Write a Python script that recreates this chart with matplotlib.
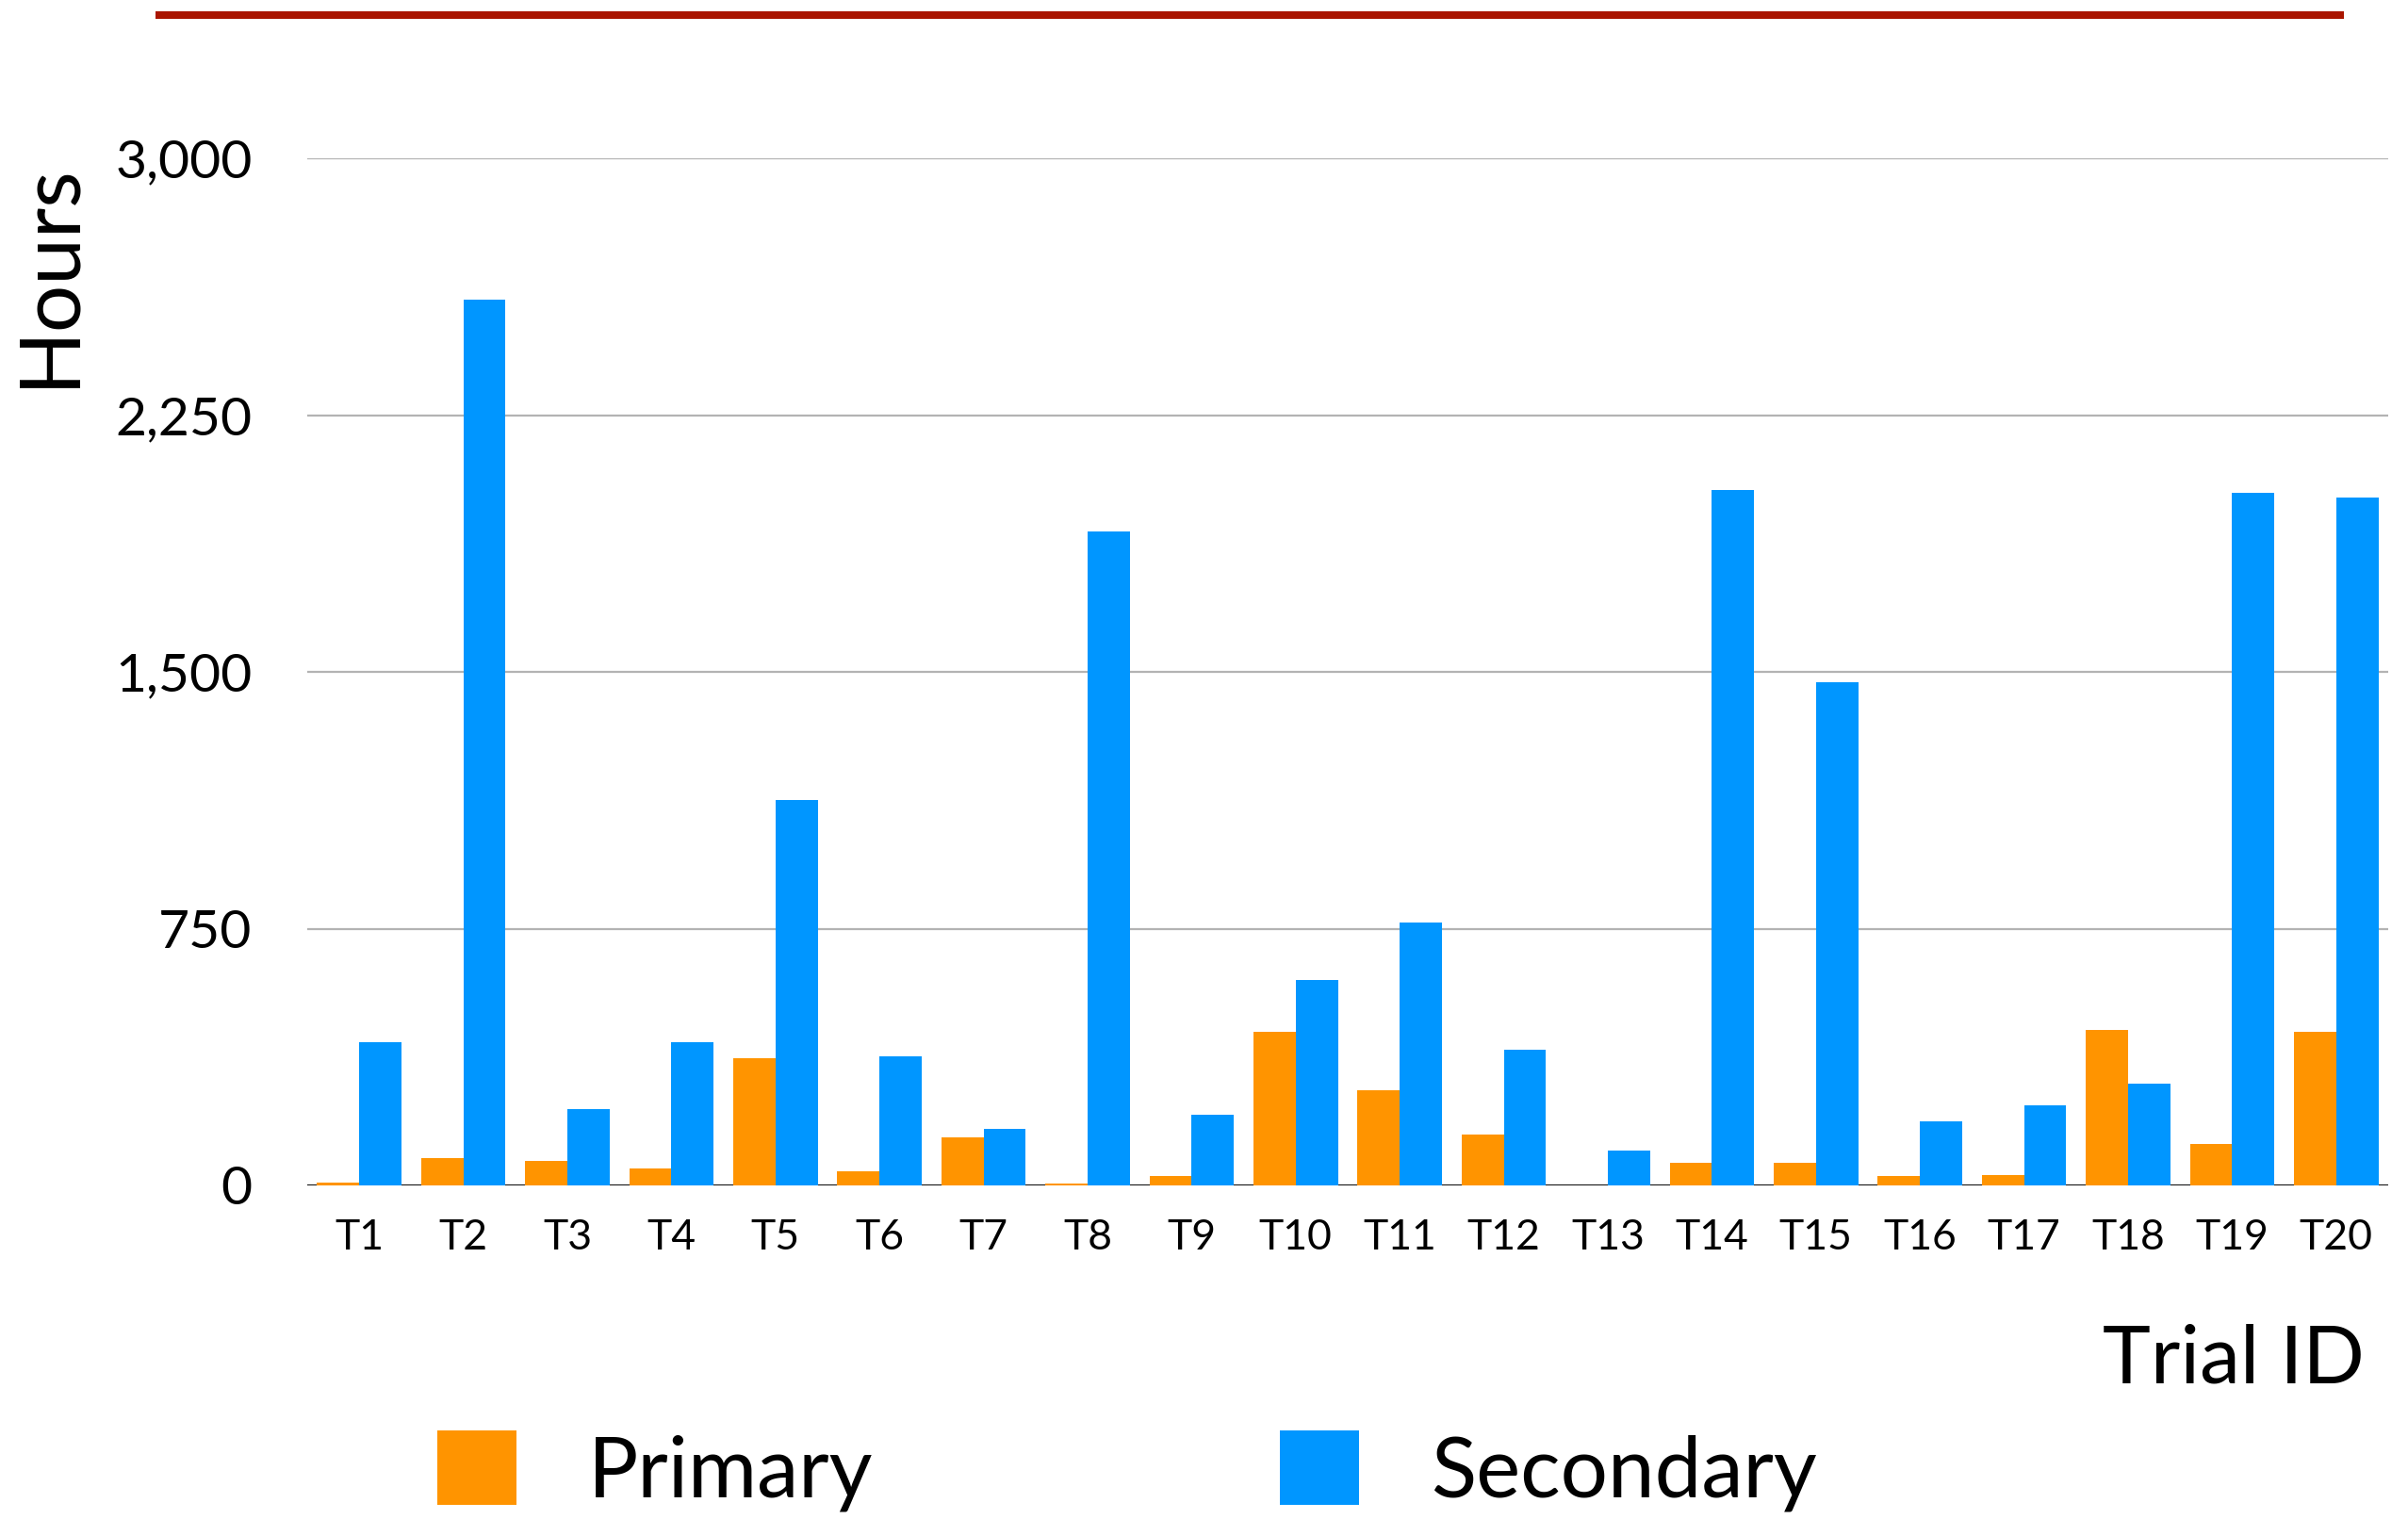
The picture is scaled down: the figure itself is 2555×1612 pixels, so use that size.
import matplotlib
matplotlib.use("Agg")
import matplotlib.pyplot as plt
from matplotlib.lines import Line2D
import numpy as np

plt.rcParams['font.family'] = ['Lato', 'DejaVu Sans']

trials = ["T1", "T2", "T3", "T4", "T5", "T6", "T7", "T8", "T9", "T10",
          "T11", "T12", "T13", "T14", "T15", "T16", "T17", "T18", "T19", "T20"]
primary = [8, 81, 72, 49, 372, 40, 139, 5, 27, 448,
           278, 148, 0, 67, 65, 27, 31, 453, 121, 448]
secondary = [417, 2587, 224, 417, 1125, 377, 166, 1910, 206, 601,
             767, 395, 103, 2031, 1471, 188, 233, 296, 2022, 2009]
yticks = [0, 750, 1500, 2250, 3000]
ytick_labels = ["0", "750", "1,500", "2,250", "3,000"]

W, H = 2555, 1612
fig = plt.figure(figsize=(W / 100, H / 100), dpi=100)
ax = fig.add_axes([326 / W, 1 - 1258 / H, (2534 - 326) / W, (1258 - 168) / H])

x = np.arange(len(trials))
bw = 0.405
c_prim = "#FF9400"
c_sec = "#0096FF"
b1 = ax.bar(x - bw / 2, primary, bw, color=c_prim, label="Primary", zorder=2)
b2 = ax.bar(x + bw / 2, secondary, bw, color=c_sec, label="Secondary", zorder=2)

ax.set_xlim(-0.5, len(trials) - 0.5)
ax.set_ylim(0, 3000)
ax.set_yticks(yticks)
ax.set_yticklabels(ytick_labels)
ax.set_xticks(x)
ax.set_xticklabels(trials)
ax.tick_params(axis='y', length=0, pad=42, labelsize=41)
ax.tick_params(axis='x', length=0, pad=25, labelsize=32)
for s in ax.spines.values():
    s.set_visible(False)
ax.yaxis.grid(True, color="#b3b3b3", lw=1.6, zorder=0)
ax.set_axisbelow(True)
ax.axhline(0, color="#111111", lw=2.2, zorder=1)

fig.text(52 / W, 1 - 292 / H, "Hours", rotation=90, ha="center", va="center", fontsize=64)
fig.text(2509 / W, 1 - 1467 / H, "Trial ID", ha="right", va="baseline", fontsize=62)

fig.add_artist(Line2D([165 / W, 2487 / W], [1 - 16 / H, 1 - 16 / H],
                      color="#AA1500", lw=5.8, solid_capstyle="butt"))

leg = fig.legend(handles=[b1, b2], loc="center left", bbox_to_anchor=(464 / W, 1 - 1561 / H),
                 ncol=2, frameon=False, fontsize=64, handlelength=0.95, handleheight=1.0,
                 handletextpad=0.85, columnspacing=4.85, borderpad=0, borderaxespad=0)

fig.savefig("out.png", dpi=100)
